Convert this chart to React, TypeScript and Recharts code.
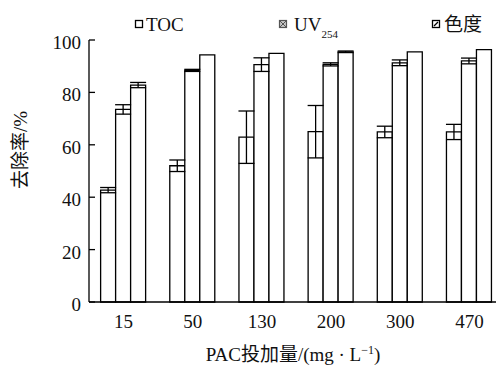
import React from 'react';
import { BarChart, Bar, XAxis, YAxis, ErrorBar, Legend } from 'recharts';

const categories = ['15', '50', '130', '200', '300', '470'];
const tocValues = [42.7, 52.0, 62.9, 65.0, 64.9, 64.9];
const tocErrors = [1.0, 2.2, 10.0, 10.0, 2.2, 2.9];
const uvValues = [73.5, 88.4, 90.6, 90.7, 91.3, 92.0];
const uvErrors = [1.8, 0.4, 2.6, 0.6, 1.1, 1.1];
const colorValues = [82.8, 94.3, 94.9, 95.5, 95.5, 96.3];
const colorErrors = [1.0, 0, 0, 0.3, 0, 0];
const yTicks = [0, 20, 40, 60, 80, 100];

const data = categories.map((c, i) => ({
  name: c,
  toc: tocValues[i],
  tocErr: tocErrors[i],
  uv: uvValues[i],
  uvErr: uvErrors[i],
  color: colorValues[i],
  colorErr: colorErrors[i],
}));

const FONT = 'Liberation Serif, Tinos, Times New Roman, DejaVu Serif, Noto Sans CJK SC, serif';
const TXT = '#111';
const ts = { fontFamily: FONT };

const YTick = (props: any) => {
  const { x, y, payload } = props;
  return (
    <text x={x} y={y + 9} textAnchor="end" style={ts} fontSize={19} fill={TXT}>
      {payload.value}
    </text>
  );
};

const XTick = (props: any) => {
  const { x, y, payload } = props;
  return (
    <text x={x} y={y + 14} textAnchor="middle" style={ts} fontSize={19} fill={TXT}>
      {payload.value}
    </text>
  );
};

const XLabel = (props: any) => {
  const vb = props.viewBox || { x: 89, y: 302, width: 415 };
  const cx = vb.x + vb.width / 2 - 3.5;
  return (
    <text x={cx} y={vb.y + 59} textAnchor="middle" style={ts} fontSize={19} fill={TXT}>
      PAC投加量/(mg · L
      <tspan fontSize={12} dy={-7}>−1</tspan>
      <tspan dy={7}>)</tspan>
    </text>
  );
};

const YLabel = () => {
  return (
    <text
      x={20}
      y={150}
      dy="0.35em"
      transform="rotate(-90, 20, 150)"
      textAnchor="middle"
      style={ts}
      fontSize={19}
      fill={TXT}
    >
      去除率/%
    </text>
  );
};

const LegendContent = () => (
  <div style={{ position: 'relative', width: 496, height: 0 }}>
    <svg width={496} height={42} style={{ position: 'absolute', left: 0, top: 0, overflow: 'visible' }}>
      <rect x={135.5} y={20.5} width={7} height={7} fill="#fff" stroke="#000" strokeWidth={1.3} />
      <text x={146} y={31} style={ts} fontSize={19} fill={TXT}>TOC</text>

      <rect x={279.5} y={20.5} width={7} height={7} fill="#c8c8c8" stroke="#555" strokeWidth={1.2} />
      <line x1={279.5} y1={20.5} x2={286.5} y2={27.5} stroke="#555" strokeWidth={1} />
      <line x1={286.5} y1={20.5} x2={279.5} y2={27.5} stroke="#555" strokeWidth={1} />
      <text x={294} y={31} style={ts} fontSize={19} fill={TXT}>
        UV
        <tspan fontSize={11} dy={7}>254</tspan>
      </text>

      <rect x={432.5} y={20.5} width={7} height={7} fill="#fff" stroke="#000" strokeWidth={1.3} />
      <line x1={434} y1={26} x2={438} y2={22} stroke="#000" strokeWidth={1.2} />
      <text x={444} y={31} style={ts} fontSize={19} fill={TXT}>色度</text>
    </svg>
  </div>
);

export default function App() {
  return (
    <div
      style={{
        position: 'absolute',
        left: 0,
        top: 0,
        width: 496,
        height: 365,
        overflow: 'hidden',
        background: '#fff',
      }}
    >
      <BarChart
        width={520}
        height={365}
        data={data}
        margin={{ top: 40, right: 16, left: 0, bottom: 0 }}
        barCategoryGap="16.8%"
        barGap={0}
      >
        <Legend
          content={<LegendContent />}
          verticalAlign="top"
          wrapperStyle={{ top: 0, left: 0, width: 496, height: 0 }}
        />
        <XAxis
          dataKey="name"
          height={63}
          axisLine={{ stroke: '#000', strokeWidth: 1.3 }}
          tickLine={false}
          tickSize={6}
          tickMargin={6}
          tick={<XTick />}
          interval={0}
          label={<XLabel />}
        />
        <YAxis
          width={89}
          domain={[0, 100]}
          ticks={yTicks}
          interval={0}
          axisLine={{ stroke: '#000', strokeWidth: 1.3 }}
          tickLine={{ stroke: '#000', strokeWidth: 1.3 }}
          tickSize={-6}
          tickMargin={14}
          tick={<YTick />}
          label={<YLabel />}
        />
        <Bar dataKey="toc" name="TOC" fill="#fff" stroke="#000" strokeWidth={1.3} isAnimationActive={false}>
          <ErrorBar dataKey="tocErr" width={8} stroke="#000" strokeWidth={1.3} />
        </Bar>
        <Bar dataKey="uv" name="UV254" fill="#fff" stroke="#000" strokeWidth={1.3} isAnimationActive={false}>
          <ErrorBar dataKey="uvErr" width={8} stroke="#000" strokeWidth={1.3} />
        </Bar>
        <Bar dataKey="color" name="色度" fill="#fff" stroke="#000" strokeWidth={1.3} isAnimationActive={false}>
          <ErrorBar dataKey="colorErr" width={8} stroke="#000" strokeWidth={1.3} />
        </Bar>
      </BarChart>
    </div>
  );
}
